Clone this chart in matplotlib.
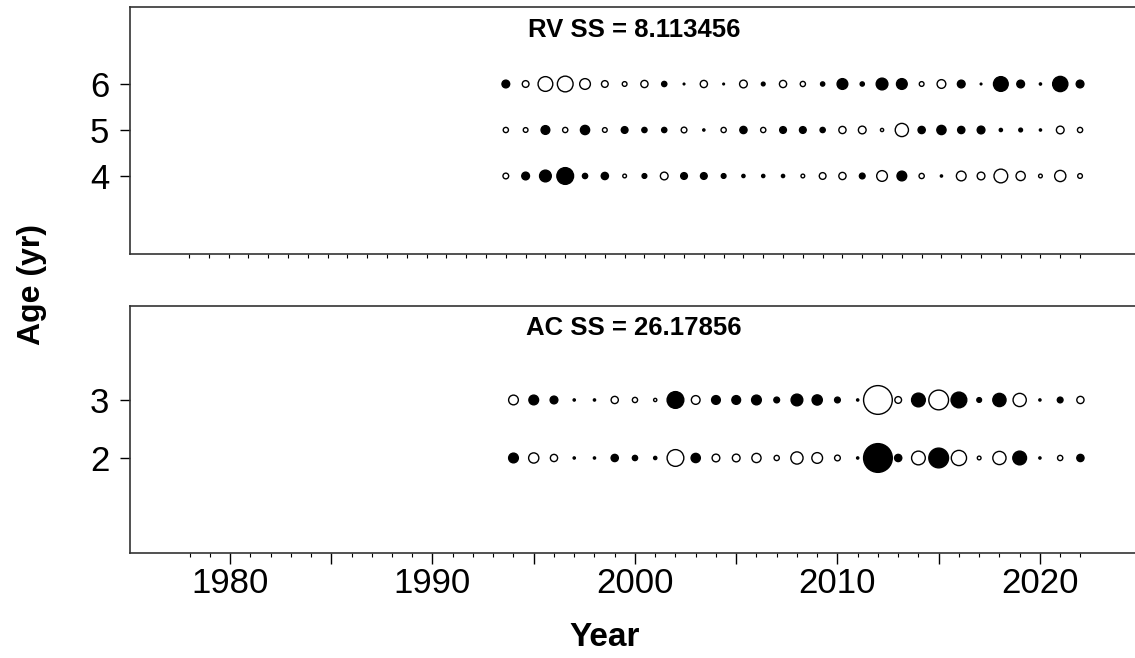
import matplotlib
matplotlib.use("Agg")
import matplotlib.pyplot as plt
import numpy as np

plt.rcParams['font.family'] = ['Liberation Sans', 'DejaVu Sans']

# RV survey residuals (sign: + filled, - open), years 1993-2022
rv_years = np.arange(1993, 2023)
rv_age6 = [0.8, -0.7, -1.5, -1.6, -1.1, -0.7, -0.5, -0.75, 0.55, 0.2, -0.75, 0.2, -0.8, 0.4, -0.75,
           -0.55, 0.45, 1.1, 0.45, 1.2, 1.1, -0.5, -0.9, 0.8, 0.2, 1.5, 0.8, 0.25, 1.55, 0.8]
rv_age5 = [-0.55, -0.5, 0.9, -0.55, 0.95, -0.5, 0.7, 0.55, 0.55, -0.6, 0.25, -0.55, 0.75, -0.55, 0.7,
           0.7, 0.55, -0.75, -0.8, -0.35, -1.35, 0.75, 0.95, 0.75, 0.8, 0.35, 0.4, 0.25, -0.8, -0.55]
rv_age4 = [-0.6, 0.8, 1.2, 1.7, 0.55, 0.75, -0.4, 0.5, -0.8, 0.7, 0.7, 0.5, 0.35, 0.35, 0.35,
           -0.4, -0.7, -0.75, 0.6, -1.1, 1.0, -0.55, 0.25, -1.0, -0.8, -1.4, -0.95, -0.4, -1.15, -0.5]
rv_ss = "8.113456"

# AC residuals, years 1994-2022
ac_years = np.arange(1994, 2023)
ac_age3 = [-1.0, 1.0, 0.8, 0.25, 0.25, -0.75, -0.55, -0.35, 1.7, -0.9, 0.9, 0.9, 1.0, 0.6, 1.2,
           1.05, 0.6, 0.25, -2.9, -0.7, 1.4, -2.0, 1.6, 0.5, 1.35, -1.35, 0.25, 0.6, -0.75]
ac_age2 = [1.0, -1.05, -0.75, 0.25, 0.25, 0.75, 0.55, 0.35, -1.7, 0.95, -0.8, -0.8, -0.95, -0.55, -1.25,
           -1.1, -0.6, 0.25, 2.9, 0.75, -1.4, 2.0, -1.55, -0.4, -1.35, 1.4, 0.25, -0.55, 0.75]
ac_ss = "26.17856"

W, H = 1135, 658
fig = plt.figure(figsize=(W/100, H/100), dpi=100)

def bubbles(ax, years, age, resid):
    r = np.array(resid)
    d = np.abs(r)*10*0.72 + 0.4     # visual diameter in points
    lw = 1.0
    s = np.maximum(d - lw*0.6, 0.8)**2
    fc = ['k' if v > 0 else 'w' for v in r]
    ax.scatter(years, np.full(len(r), age), s=s, c=fc, edgecolors='k', linewidths=lw, zorder=3)

def style(ax):
    for sp in ax.spines.values():
        sp.set_linewidth(1.2)
        sp.set_color('#333333')
    ax.spines['right'].set_visible(False)
    ax.tick_params(axis='y', length=7, width=1, pad=8, labelsize=25)

# top panel
ax1 = fig.add_axes([130/W, 1-254/H, 1015/W, 247/H])
bubbles(ax1, rv_years, 6, rv_age6)
bubbles(ax1, rv_years, 5, rv_age5)
bubbles(ax1, rv_years, 4, rv_age4)
ax1.set_xlim(1974.02, 2025.28)
ax1.set_ylim(2.304, 7.674)
ax1.set_yticks([4, 5, 6])
ax1.set_xticks(np.arange(1977, 2023))
ax1.set_xticklabels([])
ax1.tick_params(axis='x', length=3, width=0.8)
style(ax1)
ax1.text(0.4966, 0.907, "RV SS = " + rv_ss, transform=ax1.transAxes, ha='center', va='center',
         fontsize=18.5, fontweight='bold')

# bottom panel
ax2 = fig.add_axes([130/W, 1-553/H, 1015/W, 247/H])
bubbles(ax2, ac_years, 3, ac_age3)
bubbles(ax2, ac_years, 2, ac_age2)
ax2.set_xlim(1975.06, 2025.19)
ax2.set_ylim(0.362, 4.62)
ax2.set_yticks([2, 3])
major = np.arange(1980, 2021, 5)
ax2.set_xticks(major)
ax2.set_xticklabels([str(y) if y % 10 == 0 else '' for y in major])
ax2.set_xticks(np.arange(1978, 2023), minor=True)
ax2.tick_params(axis='x', which='major', length=8, width=1, pad=2, labelsize=25)
ax2.tick_params(axis='x', which='minor', length=3, width=0.8)
style(ax2)
ax2.text(0.4966, 0.911, "AC SS = " + ac_ss, transform=ax2.transAxes, ha='center', va='center',
         fontsize=18.5, fontweight='bold')

fig.text(605/W, 1-638/H, "Year", ha='center', va='center', fontsize=24, fontweight='bold')
fig.text(32/W, 1-285/H, "Age (yr)", ha='center', va='center', rotation=90, fontsize=23,
         fontweight='bold')

fig.savefig("out.png", dpi=100)
